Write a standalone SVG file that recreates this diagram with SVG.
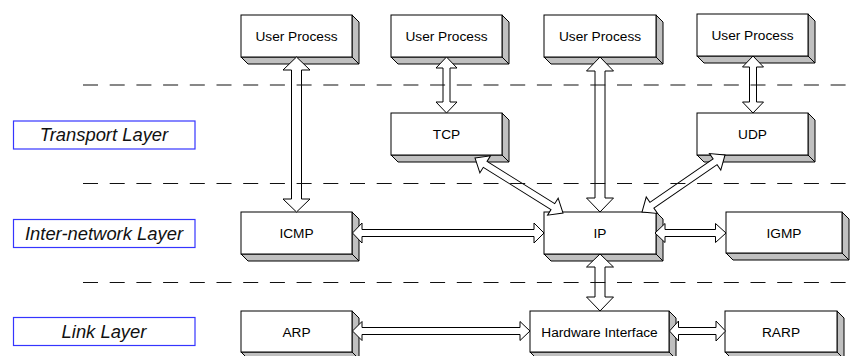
<svg xmlns="http://www.w3.org/2000/svg" width="853" height="356" viewBox="0 0 853 356">
<style>
.face{fill:#fff;stroke:#000;stroke-width:1}
.side{fill:#c0c0c0;stroke:#000;stroke-width:1;stroke-linejoin:miter}
.t{font-family:"Liberation Sans",Arial,sans-serif;font-size:13.7px;fill:#000;text-anchor:middle}
.lay{fill:#fff;stroke:#3535ff;stroke-width:1.2}
.lt{font-family:"Liberation Sans",Arial,sans-serif;font-size:18.4px;font-style:italic;fill:#111;text-anchor:middle}
.arr{fill:#fff;stroke:#000;stroke-width:1;stroke-linejoin:miter}
.dash{stroke:#111;stroke-width:1.2;stroke-dasharray:15 11.7;fill:none}
</style>
<rect width="853" height="356" fill="#fff"/>

<g id="layers">
<g id="transport-layer"><rect class="lay" x="13.5" y="121" width="181.5" height="28"/><text class="lt" x="104" y="141">Transport Layer</text></g>
<g id="internetwork-layer"><rect class="lay" x="13.5" y="219.5" width="181.5" height="28"/><text class="lt" x="104" y="239.5">Inter-network Layer</text></g>
<g id="link-layer"><rect class="lay" x="13.5" y="317.5" width="181.5" height="28"/><text class="lt" x="104" y="337.5">Link Layer</text></g>
</g>

<g id="up1"><polygon class="side" points="352,15 359,22 359,64 248,64 241,57 352,57"/><line class="side" x1="352" y1="57" x2="359" y2="64"/><rect class="face" x="241" y="15" width="111" height="42"/><text class="t" x="296.5" y="41">User Process</text></g>
<g id="up2"><polygon class="side" points="502,15 509,22 509,64 398,64 391,57 502,57"/><line class="side" x1="502" y1="57" x2="509" y2="64"/><rect class="face" x="391" y="15" width="111" height="42"/><text class="t" x="446.5" y="41">User Process</text></g>
<g id="up3"><polygon class="side" points="656,15 663,22 663,64 551,64 544,57 656,57"/><line class="side" x1="656" y1="57" x2="663" y2="64"/><rect class="face" x="544" y="15" width="112" height="42"/><text class="t" x="600" y="41">User Process</text></g>
<g id="up4"><polygon class="side" points="808,14 815,21 815,63 704,63 697,56 808,56"/><line class="side" x1="808" y1="56" x2="815" y2="63"/><rect class="face" x="697" y="14" width="111" height="42"/><text class="t" x="752.5" y="40">User Process</text></g>
<g id="tcp"><polygon class="side" points="502,113 509,120 509,162 398,162 391,155 502,155"/><line class="side" x1="502" y1="155" x2="509" y2="162"/><rect class="face" x="391" y="113" width="111" height="42"/><text class="t" x="446.5" y="139">TCP</text></g>
<g id="udp"><polygon class="side" points="808,113 815,120 815,162 704,162 697,155 808,155"/><line class="side" x1="808" y1="155" x2="815" y2="162"/><rect class="face" x="697" y="113" width="111" height="42"/><text class="t" x="752.5" y="139">UDP</text></g>
<g id="icmp"><polygon class="side" points="352,212 359,219 359,261 248,261 241,254 352,254"/><line class="side" x1="352" y1="254" x2="359" y2="261"/><rect class="face" x="241" y="212" width="111" height="42"/><text class="t" x="296.5" y="238">ICMP</text></g>
<g id="ip"><polygon class="side" points="656,212 663,219 663,261 551,261 544,254 656,254"/><line class="side" x1="656" y1="254" x2="663" y2="261"/><rect class="face" x="544" y="212" width="112" height="42"/><text class="t" x="600" y="238">IP</text></g>
<g id="igmp"><polygon class="side" points="842,212 849,219 849,260 733,260 726,253 842,253"/><line class="side" x1="842" y1="253" x2="849" y2="260"/><rect class="face" x="726" y="212" width="116" height="41"/><text class="t" x="784" y="237.5">IGMP</text></g>
<g id="arp"><polygon class="side" points="352,311 359,318 359,359 248,359 241,352 352,352"/><line class="side" x1="352" y1="352" x2="359" y2="359"/><rect class="face" x="241" y="311" width="111" height="41"/><text class="t" x="296.5" y="336.5">ARP</text></g>
<g id="hw"><polygon class="side" points="669,311 676,318 676,359 537,359 530,352 669,352"/><line class="side" x1="669" y1="352" x2="676" y2="359"/><rect class="face" x="530" y="311" width="139" height="41"/><text class="t" x="599.5" y="336.5">Hardware Interface</text></g>
<g id="rarp"><polygon class="side" points="837,311 844,318 844,359 732,359 725,352 837,352"/><line class="side" x1="837" y1="352" x2="844" y2="359"/><rect class="face" x="725" y="311" width="112" height="41"/><text class="t" x="781" y="336.5">RARP</text></g>

<g id="connectors">
<!-- vertical wide -->
<polygon class="arr" points="296.5,57 310,70 301.5,70 301.5,199 310,199 296.5,212 283,199 291.5,199 291.5,70 283,70"/>
<polygon class="arr" points="600,57 613.5,71 605,71 605,198 613.5,198 600,212 586.5,198 595,198 595,71 586.5,71"/>
<polygon class="arr" points="600,254 613.5,267 605,267 605,297 613.5,297 600,311 586.5,297 595,297 595,267 586.5,267"/>
<!-- vertical narrow -->
<polygon class="arr" points="446.5,57 457,68 450,68 450,102 457,102 446.5,113 436,102 443,102 443,68 436,68"/>
<polygon class="arr" points="753,56 763.5,67 756.5,67 756.5,102 763.5,102 753,113 742.5,102 749.5,102 749.5,67 742.5,67"/>
<!-- horizontal -->
<polygon class="arr" points="352.5,233 362,223 362,229.5 534,229.5 534,223 544,233 534,243 534,236.5 362,236.5 362,243"/>
<polygon class="arr" points="655,233 665,223.5 665,229.5 715.5,229.5 715.5,223.5 726,233 715.5,242.5 715.5,236.5 665,236.5 665,242.5"/>
<polygon class="arr" points="352.5,331 362,321.5 362,327.5 520,327.5 520,321.5 530,331 520,340.5 520,334.5 362,334.5 362,340.5"/>
<polygon class="arr" points="669.5,331 678.5,321 678.5,327.5 716,327.5 716,321 725.5,331 716,341 716,334.5 678.5,334.5 678.5,341"/>
<!-- diagonals -->
<polygon class="arr" transform="translate(475,158) rotate(32)" points="0,0 12,-10 12,-3.5 91.8,-3.5 91.8,-10 103.8,0 91.8,10 91.8,3.5 12,3.5 12,10"/>
<polygon class="arr" transform="translate(725,155) rotate(145.5)" points="0,0 12,-10 12,-3.5 88.7,-3.5 88.7,-10 100.7,0 88.7,10 88.7,3.5 12,3.5 12,10"/>
</g>

<g id="separators">
<line class="dash" x1="83" y1="85" x2="853" y2="85"/>
<line class="dash" x1="83" y1="183.5" x2="853" y2="183.5"/>
<line class="dash" x1="83" y1="282.5" x2="853" y2="282.5"/>
</g>
</svg>
